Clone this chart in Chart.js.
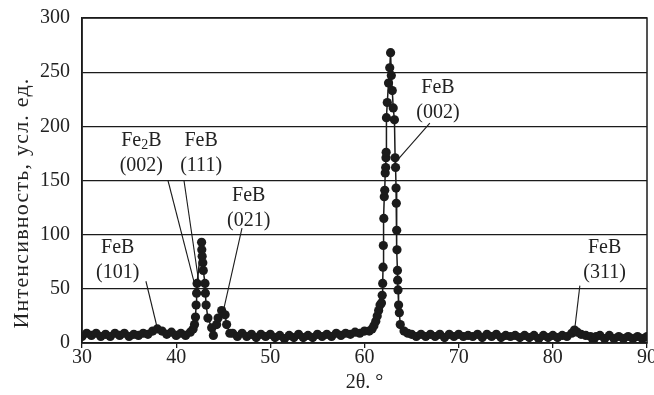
<!DOCTYPE html>
<html>
<head>
<meta charset="utf-8">
<script src="https://cdn.jsdelivr.net/npm/chart.js@4.4.1/dist/chart.umd.min.js"></script>
<style>
  html, body { margin: 0; padding: 0; background: #fff; }
  #wrap { width: 654px; height: 395px; }
</style>
</head>
<body>
<div id="wrap"><canvas id="xrdChart" width="654" height="395"></canvas></div>
<script>
/* ── DATA ──────────────────────────────────────────────── */
const twoTheta = [
  30, 30.5, 31, 31.5, 32, 32.5, 33, 33.5, 34, 34.5, 35, 35.5, 36, 36.5, 37, 37.5, 38, 38.5,
  39, 39.5, 40, 40.5, 41, 41.5, 41.8, 41.95, 42.05, 42.12, 42.17, 42.22,
  42.7, 42.72, 42.76, 42.83, 42.88, 43.06, 43.1, 43.18, 43.37, 43.77, 43.95,
  44.3, 44.45, 44.83, 45.2, 45.36, 45.7, 46, 46.5, 47, 47.5, 48, 48.5, 49, 49.5,
  50, 50.5, 51, 51.5, 52, 52.5, 53, 53.5, 54, 54.5, 55, 55.5, 56, 56.5, 57, 57.5,
  58, 58.5, 59, 59.5, 60, 60.5, 60.8, 61.0, 61.2, 61.35, 61.5, 61.65, 61.8,
  61.88, 61.93, 61.97, 62.0, 62.05, 62.1, 62.15, 62.2, 62.25, 62.28, 62.3,
  62.33, 62.42, 62.55, 62.68, 62.77, 62.85, 62.95, 63.05, 63.18,
  63.25, 63.3, 63.35, 63.38, 63.42, 63.45, 63.5, 63.52, 63.56, 63.62, 63.7, 63.8,
  64.2, 64.6, 65, 65.5, 66, 66.5, 67, 67.5, 68, 68.5, 69, 69.5, 70, 70.5, 71, 71.5,
  72, 72.5, 73, 73.5, 74, 74.5, 75, 75.5, 76, 76.5, 77, 77.5, 78, 78.5, 79, 79.5,
  80, 80.5, 81, 81.5, 82, 82.3, 82.6, 83, 83.5, 84, 84.3, 84.6, 85, 85.5, 86, 86.5,
  87, 87.5, 88, 88.5, 89, 89.5, 90
];
const intensity = [
  6, 9, 7, 9, 6, 8, 6, 9, 7, 9, 6, 8, 7, 9, 8, 11, 13, 11,
  8, 10, 7, 9, 7, 10, 13, 17, 24, 35, 46, 55,
  93, 86, 80, 74, 67, 55, 46, 35, 23, 14, 7,
  17, 23, 30, 26, 17, 9, 9, 6, 9, 6, 8, 5, 8, 6,
  8, 5, 7, 4, 7, 5, 8, 5, 7, 5, 8, 6, 8, 6, 9, 7,
  9, 8, 10, 9, 11, 11, 13, 16, 20, 25, 30, 35, 37,
  44, 55, 70, 90, 115, 135, 141, 157, 162, 171, 176,
  208, 222, 240, 254, 268, 247, 233, 217, 206,
  171, 162, 143, 129, 104, 86, 67, 58, 49, 35, 28, 17,
  11, 9, 8, 6, 8, 6, 8, 6, 8, 5, 8, 6, 8, 6, 7, 6,
  8, 5, 8, 6, 8, 5, 7, 6, 7, 5, 7, 5, 7, 4, 7, 5,
  7, 5, 7, 6, 9, 12, 10, 8, 7, 6, 2, 6, 7, 4, 7, 4,
  6, 4, 6, 4, 6, 4, 6
];
const xTicks = [30, 40, 50, 60, 70, 80, 90];
const yTicks = [0, 50, 100, 150, 200, 250, 300];

// peak labels: text lines, label centre (deg, intensity), leader line from -> to
const peakLabels = [
  { lines: ['FeB', '(101)'],  at: [33.8, 88],  from: [36.79, 57],  to: [37.96, 15] },
  { lines: ['Fe_2B', '(002)'], at: [36.3, 187], from: [39.13, 150], to: [42.0, 53] },
  { lines: ['FeB', '(111)'],  at: [42.65, 187], from: [40.83, 150], to: [42.42, 55] },
  { lines: ['FeB', '(021)'],  at: [47.7, 136], from: [46.99, 106], to: [45.07, 32] },
  { lines: ['FeB', '(002)'],  at: [67.8, 236], from: [66.94, 203], to: [62.91, 163] },
  { lines: ['FeB', '(311)'],  at: [85.5, 88],  from: [82.87, 53],  to: [82.34, 14] }
];
const yTitle = 'Интенсивность, усл. ед.';

/* ── THEME ─────────────────────────────────────────────── */
const INK = '#1b1b1b';
const FONT = "'Liberation Serif', 'Times New Roman', serif";

/* ── PLUGINS ───────────────────────────────────────────── */
const frame = {
  id: 'frame',
  afterDraw(chart) {
    const { ctx, chartArea: a } = chart;
    ctx.save();
    ctx.strokeStyle = INK;
    ctx.lineWidth = 1.5;
    ctx.strokeRect(a.left, a.top, a.right - a.left, a.bottom - a.top);

    // rotated y title, drawn by hand so its length matches the scan
    ctx.translate(22, 203);
    ctx.rotate(-Math.PI / 2);
    ctx.font = '22px ' + FONT;
    ctx.letterSpacing = '1.2px';
    ctx.fillStyle = '#222';
    ctx.textAlign = 'center';
    ctx.textBaseline = 'middle';
    ctx.fillText(yTitle, 0, 0);
    ctx.restore();
  }
};

function drawLabelLine(ctx, text, cx, cy) {
  // "_2" marks a subscript digit
  const parts = text.split('_');
  if (parts.length === 1) {
    ctx.textAlign = 'center';
    ctx.fillText(text, cx, cy);
    return;
  }
  const head = parts[0], sub = parts[1].charAt(0), tail = parts[1].slice(1);
  const big = '20px ' + FONT, small = '14px ' + FONT;
  ctx.font = big;   const w1 = ctx.measureText(head).width, w3 = ctx.measureText(tail).width;
  ctx.font = small; const w2 = ctx.measureText(sub).width;
  let x = cx - (w1 + w2 + w3) / 2;
  ctx.textAlign = 'left';
  ctx.font = big;   ctx.fillText(head, x, cy); x += w1;
  ctx.font = small; ctx.fillText(sub, x, cy + 5); x += w2;
  ctx.font = big;   ctx.fillText(tail, x, cy);
}

const peakNotes = {
  id: 'peakNotes',
  afterDatasetsDraw(chart) {
    const { ctx, scales: { x, y } } = chart;
    ctx.save();
    ctx.strokeStyle = INK;
    ctx.fillStyle = '#222';
    ctx.lineWidth = 1.1;
    ctx.textBaseline = 'middle';
    peakLabels.forEach(p => {
      ctx.beginPath();
      ctx.moveTo(x.getPixelForValue(p.from[0]), y.getPixelForValue(p.from[1]));
      ctx.lineTo(x.getPixelForValue(p.to[0]), y.getPixelForValue(p.to[1]));
      ctx.stroke();
      const cx = x.getPixelForValue(p.at[0]);
      const cy = y.getPixelForValue(p.at[1]);
      p.lines.forEach((t, i) => {
        ctx.font = '20px ' + FONT;
        drawLabelLine(ctx, t, cx, cy + i * 25);
      });
    });
    ctx.restore();
  }
};

/* ── CHART ─────────────────────────────────────────────── */
new Chart(document.getElementById('xrdChart'), {
  type: 'scatter',
  data: {
    datasets: [{
      data: twoTheta.map((t, i) => ({ x: t, y: intensity[i] })),
      showLine: true,
      borderColor: INK,
      borderWidth: 1.5,
      pointRadius: 4.6,
      pointBorderWidth: 0,
      pointBackgroundColor: INK
    }]
  },
  options: {
    responsive: false,
    animation: false,
    layout: { padding: { top: 18, right: 7, left: 0, bottom: 0 } },
    plugins: { legend: { display: false }, tooltip: { enabled: false } },
    scales: {
      x: {
        type: 'linear',
        min: 30, max: 90,
        afterBuildTicks: s => { s.ticks = xTicks.map(v => ({ value: v })); },
        afterFit: s => { s.height = 52; s.paddingLeft = 0; s.paddingRight = 0; },
        grid: { drawOnChartArea: false, drawTicks: true, tickLength: 5, color: INK, lineWidth: 1.3 },
        border: { display: true, color: INK, width: 1.5 },
        ticks: { color: '#222', padding: 0, maxRotation: 0, font: { family: FONT, size: 20, lineHeight: 1 } },
        title: { display: true, text: '2θ. °', color: '#222', padding: { top: 0, bottom: 0 },
                 font: { family: FONT, size: 20, lineHeight: 1.2 } }
      },
      y: {
        min: 0, max: 300,
        afterBuildTicks: s => { s.ticks = yTicks.map(v => ({ value: v })); },
        afterFit: s => { s.width = 82; s.paddingTop = 0; s.paddingBottom = 0; },
        grid: { drawTicks: false, color: INK, lineWidth: 1.3 },
        border: { display: true, color: INK, width: 1.5 },
        ticks: { color: '#222', padding: 12, font: { family: FONT, size: 20 } },
        title: { display: false }
      }
    }
  },
  plugins: [frame, peakNotes]
});
</script>
</body>
</html>
